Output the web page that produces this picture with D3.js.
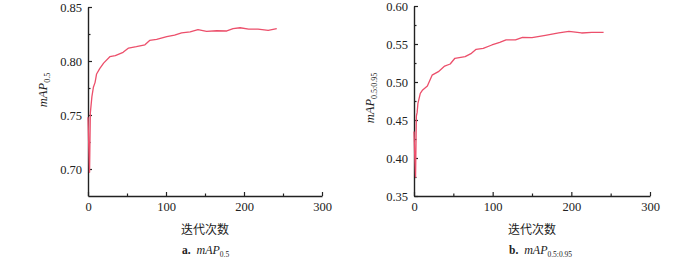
<!DOCTYPE html>
<html>
<head>
<meta charset="utf-8">
<script src="https://cdn.jsdelivr.net/npm/d3@7"></script>
<style>
    body { margin: 0; background: #fff; }
    svg { display: block; }
</style>
</head>
<body>
<svg id="chart" width="700" height="259"></svg>
<script>
// a. mAP0.5
const epochsA = [0, 1, 2, 3, 5, 7, 9, 10, 11, 15, 20, 28, 35, 45, 52, 62, 73, 79, 88, 101, 111, 120, 131, 141, 152, 165, 178, 186, 195, 206, 218, 231, 242];
const mapA = [0.748, 0.72, 0.697, 0.752, 0.767, 0.776, 0.780, 0.784, 0.788, 0.793, 0.798, 0.804, 0.805, 0.808, 0.812, 0.8133, 0.815, 0.819, 0.820, 0.8225, 0.824, 0.826, 0.827, 0.829, 0.8275, 0.828, 0.8278, 0.830, 0.8308, 0.8296, 0.8296, 0.8284, 0.830];

// b. mAP0.5:0.95
const epochsB = [0, 1, 2, 3, 4, 5, 8, 11, 17, 23, 31, 39, 46, 52, 65, 73, 79, 88, 99, 109, 117, 129, 138, 150, 167, 184, 197, 213, 226, 241];
const mapB = [0.435, 0.40, 0.375, 0.455, 0.46, 0.472, 0.485, 0.4895, 0.4947, 0.509, 0.5136, 0.521, 0.5237, 0.5312, 0.5333, 0.5377, 0.543, 0.5443, 0.5487, 0.5522, 0.5553, 0.5553, 0.5588, 0.5583, 0.5614, 0.5645, 0.5667, 0.5645, 0.5654, 0.5654];

const xTicks = [0, 100, 200, 300];
const xMinorTicks = [50, 150, 250];
const yTicksA = [0.70, 0.75, 0.80, 0.85];
const yMinorTicksA = [0.725, 0.775, 0.825];
const yTicksB = [0.35, 0.40, 0.45, 0.50, 0.55, 0.60];
const yMinorTicksB = [0.375, 0.425, 0.475, 0.525, 0.575];

const lineColor = "#ec4f6b";
const axisColor = "#222";
const serif = "Liberation Serif, serif";
const svg = d3.select("#chart");

const drawPanel = (cfg) => {
    const xScale = d3.scaleLinear().domain([0, 300]).range(cfg.xRange);
    const yScale = d3.scaleLinear().domain(cfg.yDomain).range(cfg.yRange);
    const g = svg.append("g");

    // minor ticks
    g.append("g")
        .attr("transform", `translate(0,${cfg.yRange[0]})`)
        .call(d3.axisBottom(xScale).tickValues(xMinorTicks).tickSize(-2.5).tickFormat(""))
        .call(a => a.select(".domain").remove());
    g.append("g")
        .attr("transform", `translate(${cfg.xRange[0]},0)`)
        .call(d3.axisLeft(yScale).tickValues(cfg.yMinor).tickSize(-2.5).tickFormat(""))
        .call(a => a.select(".domain").remove());

    // major axes
    g.append("g")
        .attr("transform", `translate(0,${cfg.yRange[0]})`)
        .call(d3.axisBottom(xScale).tickValues(xTicks).tickSize(-4).tickSizeOuter(0).tickPadding(6).tickFormat(d3.format("d")))
        .attr("font-family", serif)
        .attr("font-size", 12.5);
    g.append("g")
        .attr("transform", `translate(${cfg.xRange[0]},0)`)
        .call(d3.axisLeft(yScale).tickValues(cfg.yTicks).tickSize(-4).tickSizeOuter(0).tickPadding(6).tickFormat(d3.format(".2f")))
        .attr("font-family", serif)
        .attr("font-size", 12.5);

    g.selectAll(".domain").attr("stroke", axisColor).attr("stroke-width", 1.4);
    g.selectAll(".tick line").attr("stroke", axisColor).attr("stroke-width", 1.2);
    g.selectAll(".tick text").attr("fill", axisColor);

    // series line
    const data = cfg.epochs.map((e, i) => [e, cfg.values[i]]);
    g.append("path")
        .datum(data)
        .attr("fill", "none")
        .attr("stroke", lineColor)
        .attr("stroke-width", 1.3)
        .attr("stroke-linejoin", "round")
        .attr("d", d3.line().x(d => xScale(d[0])).y(d => yScale(d[1])));

    // y label
    const yLab = g.append("text")
        .attr("transform", `translate(${cfg.yLabelX},${cfg.yLabelY}) rotate(-90)`)
        .attr("text-anchor", "middle")
        .attr("font-family", serif)
        .attr("fill", "#222");
    yLab.append("tspan").attr("font-style", "italic").attr("font-size", 12.5).text("mAP");
    yLab.append("tspan").attr("font-size", 8).attr("dy", 3).text(cfg.sub);

    // x label
    const xMid = (cfg.xRange[0] + cfg.xRange[1]) / 2;
    g.append("text")
        .attr("x", xMid)
        .attr("y", 234)
        .attr("text-anchor", "middle")
        .attr("font-family", "Noto Sans CJK SC, sans-serif")
        .attr("font-size", 12)
        .attr("fill", "#222")
        .text("迭代次数");

    // caption
    const cap = g.append("text")
        .attr("x", cfg.capX)
        .attr("y", 254)
        .attr("font-family", serif)
        .attr("fill", "#222");
    cap.append("tspan").attr("font-size", 11.5).attr("font-weight", "bold").text(cfg.letter + ". ");
    cap.append("tspan").attr("font-size", 12).attr("font-style", "italic").attr("dx", 3).text("mAP");
    cap.append("tspan").attr("font-size", 7.5).attr("dy", 3).text(cfg.sub);
};

drawPanel({
    epochs: epochsA, values: mapA,
    xRange: [88, 322], yRange: [196, 7], yDomain: [0.675, 0.85],
    yTicks: yTicksA, yMinor: yMinorTicksA,
    yLabelX: 47, yLabelY: 90, sub: "0.5",
    letter: "a", capX: 182
});

drawPanel({
    epochs: epochsB, values: mapB,
    xRange: [414, 650], yRange: [196, 6], yDomain: [0.35, 0.60],
    yTicks: yTicksB, yMinor: yMinorTicksB,
    yLabelX: 374, yLabelY: 98, sub: "0.5:0.95",
    letter: "b", capX: 509
});
</script>
</body>
</html>
